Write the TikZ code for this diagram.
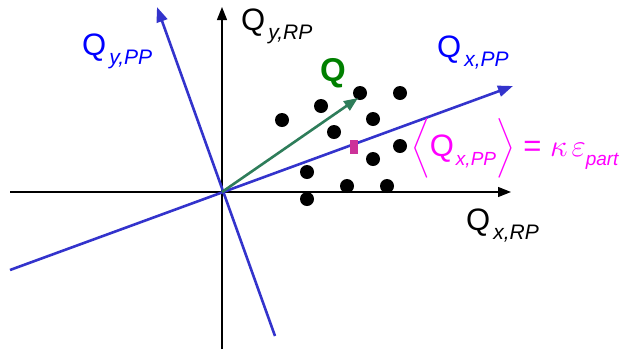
\RequirePackage{fix-cm}
\documentclass[tikz,border=0pt]{standalone}
\usepackage{exscale}
\usepackage{fontspec}
\setmainfont{Liberation Sans}
\usetikzlibrary{arrows.meta}
\definecolor{axblue}{RGB}{51,51,204}
\definecolor{txtblue}{RGB}{0,0,255}
\definecolor{arrgreen}{RGB}{46,125,90}
\definecolor{txtgreen}{RGB}{0,128,0}
\definecolor{txtmag}{RGB}{255,0,255}
\definecolor{barmag}{RGB}{204,51,153}
\newcommand\qsub[1]{Q\kern3pt\raisebox{-9pt}{\fontsize{21}{21}\selectfont\itshape #1}}
\newcommand\qsubs[1]{Q\kern2pt\raisebox{-9pt}{\fontsize{19}{19}\selectfont\itshape #1}}
\tikzset{
  axis/.style={line width=1.3pt,-{Triangle[length=13pt,width=10pt]}},
  ppaxis/.style={line width=2.6pt,axblue,-{Triangle[length=15pt,width=11pt]}},
  qvec/.style={line width=2.6pt,arrgreen,-{Triangle[length=14pt,width=11pt]}},
  lab/.style={inner sep=0pt,anchor=base west,font=\fontsize{31}{31}\selectfont},
  dot/.style={circle,fill=black,minimum size=14pt,inner sep=0pt},
  bar/.style={fill=barmag,minimum width=8pt,minimum height=14pt,inner sep=0pt}
}
\begin{document}
\begin{tikzpicture}[x=1pt,y=-1pt]
\useasboundingbox (0,0) rectangle (629,349);
\coordinate (O) at (222,192);
\coordinate (xl) at (10,192);
\coordinate (xr) at (511,192);
\coordinate (yb) at (222,349);
\coordinate (yt) at (222,7);
\coordinate (pxl) at (10,270);
\coordinate (pxr) at (513,86);
\coordinate (pyb) at (275,336);
\coordinate (pyt) at (157,7);
\coordinate (qt) at (358,98);
% axes
\draw[axis] (xl) -- (xr);
\draw[axis] (yb) -- (yt);
% dots
\foreach \i/\p in {1/{(282,120)},2/{(321,106)},3/{(360,93)},4/{(400,93)},5/{(334,132)},6/{(373,119)},7/{(400,146)},8/{(373,159)},9/{(307,172)},10/{(347,186)},11/{(387,186)},12/{(307,199)}}
  \node[dot] (d\i) at \p {};
% rotated axes
\draw[ppaxis] (pxl) -- (pxr);
\draw[ppaxis] (pyb) -- (pyt);
% Q vector
\draw[qvec] (O) -- (qt);
\node[bar] (m) at (354,147) {};
% labels
\node[lab] (lyrp) at (241,30) {\qsub{y,RP}};
\node[lab,text=txtblue] (lypp) at (82,55) {\qsub{y,PP}};
\node[lab,text=txtblue] (lxpp) at (437,57) {\qsub{x,PP}};
\node[lab] (lxrp) at (466,230) {\qsub{x,RP}};
\node[lab,text=txtgreen,font=\fontsize{33}{33}\selectfont\bfseries] (lq) at (320,81) {Q};
\node[lab,text=txtmag] (lf) at (411,156) {$\left\langle\rule[-20pt]{0pt}{42pt}\mbox{\qsubs{x,PP}}\right\rangle \mathrel{\mbox{=}} \kappa\kern4pt\varepsilon\mbox{\raisebox{-9pt}{\fontsize{19}{19}\selectfont\itshape part}}$};
\end{tikzpicture}
\end{document}
